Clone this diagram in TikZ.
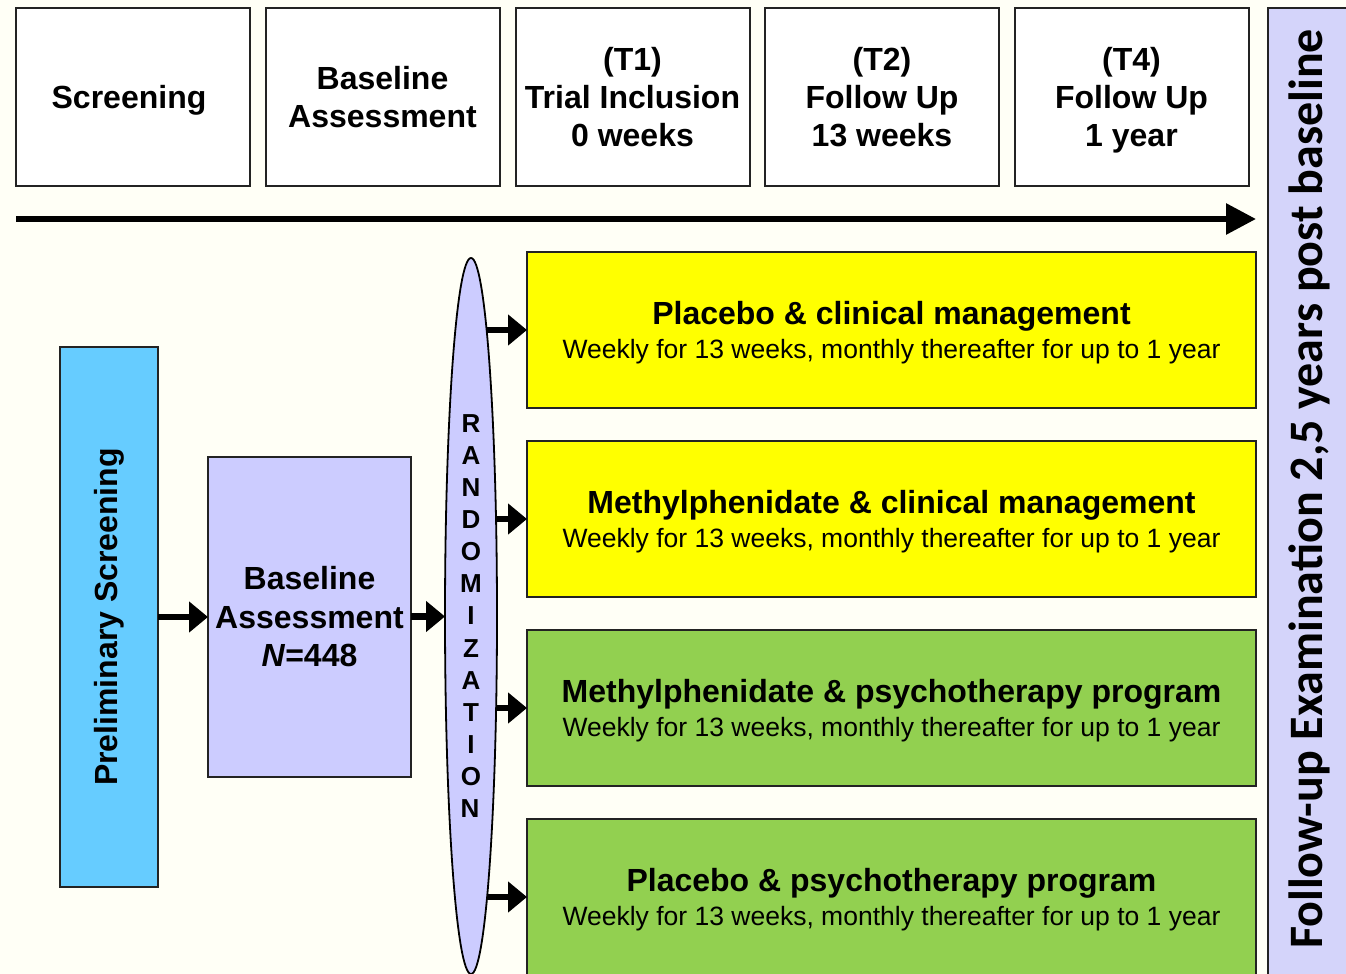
\documentclass[tikz,border=0pt]{standalone}
\usepackage{fontspec}
\setmainfont{Liberation Sans}
\newfontfamily\carl{Carlito}
\usetikzlibrary{arrows.meta,shapes.geometric,calc}
\definecolor{bg}{RGB}{255,255,246}
\definecolor{bdr}{RGB}{35,35,35}
\definecolor{yel}{RGB}{255,255,0}
\definecolor{grn}{RGB}{146,208,80}
\definecolor{sky}{RGB}{102,204,255}
\definecolor{lav}{RGB}{204,204,255}
\definecolor{barlav}{RGB}{212,212,250}
\newcommand\grpttl{\bfseries\fontsize{32}{33.5}\selectfont}
\begin{document}
\begin{tikzpicture}[x=1pt,y=-1pt,
  topbox/.style={draw=bdr, line width=2pt, fill=white, minimum width=234pt, minimum height=178pt,
    inner sep=0pt, outer sep=0pt, align=center, text depth=0pt, font=\bfseries\fontsize{32}{38}\selectfont},
  grpbox/.style={draw=bdr, line width=2pt, minimum width=729pt, minimum height=156pt,
    inner sep=0pt, outer sep=0pt, align=center, text depth=0pt, font=\fontsize{26.5}{33.5}\selectfont},
  arr/.style={-{Triangle[length=19pt,width=30pt]}, line width=6.5pt},
  bigarr/.style={-{Triangle[length=30pt,width=30pt]}, line width=6pt}
]
\clip (0,0) rectangle (1346,974);
\fill[bg] (0,0) rectangle (1346,974);

% top timeline boxes
\node[topbox] (scr) at (133,97) {Screening\hspace*{8pt}};
\node[topbox] (bas) at (382.5,97) {Baseline\\Assessment};
\node[topbox] (t1) at (632.5,97) {(T1)\\Trial Inclusion\\0 weeks};
\node[topbox] (t2) at (882,97) {(T2)\\Follow Up\\13 weeks};
\node[topbox] (t4) at (1131.5,97) {(T4)\\Follow Up\\1 year};

% timeline arrow
\coordinate (tl0) at (16,219);
\coordinate (tl1) at (1256,219);
\draw[bigarr] (tl0) -- (tl1);

% right follow-up bar
\node[fill=barlav, draw=bdr, line width=2pt, minimum width=90pt, minimum height=980pt, inner sep=0pt, outer sep=0pt] (fu) at (1313,498) {};
\node[rotate=90, font=\carl\bfseries\fontsize{48}{48}\selectfont, inner sep=0pt] (fut) at (1309,489) {Follow-up Examination 2,5 years post baseline};

% preliminary screening
\node[draw=bdr, line width=2pt, fill=sky, minimum width=98pt, minimum height=540pt, inner sep=0pt, outer sep=0pt] (pre) at (109,617) {};
\node[rotate=90, font=\bfseries\fontsize{32}{38}\selectfont, inner sep=0pt] (pret) at (pre.center) {Preliminary Screening};

% baseline assessment
\node[draw=bdr, line width=2pt, fill=lav, minimum width=203pt, minimum height=320pt, inner sep=0pt, outer sep=0pt,
  align=center, text depth=0pt, font=\bfseries\fontsize{32}{38.5}\selectfont] (ba) at (309.5,616.5) {Baseline\\Assessment\\\textit{N}=448};

% randomization ellipse
\node[ellipse, draw=black, line width=1.8pt, fill=lav, minimum width=52pt, minimum height=716pt, inner sep=0pt, outer sep=0pt,
  align=center, font=\bfseries\fontsize{26}{32.1}\selectfont] (rand) at (471,616)
  {R\\A\\N\\D\\O\\M\\I\\Z\\A\\T\\I\\O\\N\hspace*{0pt}\kern2pt};

% group boxes
\node[grpbox, fill=yel] (g1) at (891.5,330) {{\grpttl Placebo \& clinical management}\\Weekly for 13 weeks, monthly thereafter for up to 1 year};
\node[grpbox, fill=yel] (g2) at (891.5,519) {{\grpttl Methylphenidate \& clinical management}\\Weekly for 13 weeks, monthly thereafter for up to 1 year};
\node[grpbox, fill=grn] (g3) at (891.5,708) {{\grpttl Methylphenidate \& psychotherapy program}\\Weekly for 13 weeks, monthly thereafter for up to 1 year};
\node[grpbox, fill=grn] (g4) at (891.5,897) {{\grpttl Placebo \& psychotherapy program}\\Weekly for 13 weeks, monthly thereafter for up to 1 year};

% arrows
\draw[arr] (pre.east) -- (pre.east -| ba.west);
\draw[arr] (ba.east) -- (ba.east -| rand.west);
\coordinate (r1) at ($(rand.center)+(15.6,-286)$);
\coordinate (r2) at ($(rand.center)+(25,-97)$);
\coordinate (r3) at ($(rand.center)+(25,92)$);
\coordinate (r4) at ($(rand.center)+(16,281)$);
\draw[arr] (r1) -- (r1 -| g1.west);
\draw[arr] (r2) -- (r2 -| g2.west);
\draw[arr] (r3) -- (r3 -| g3.west);
\draw[arr] (r4) -- (r4 -| g4.west);
\end{tikzpicture}
\end{document}
